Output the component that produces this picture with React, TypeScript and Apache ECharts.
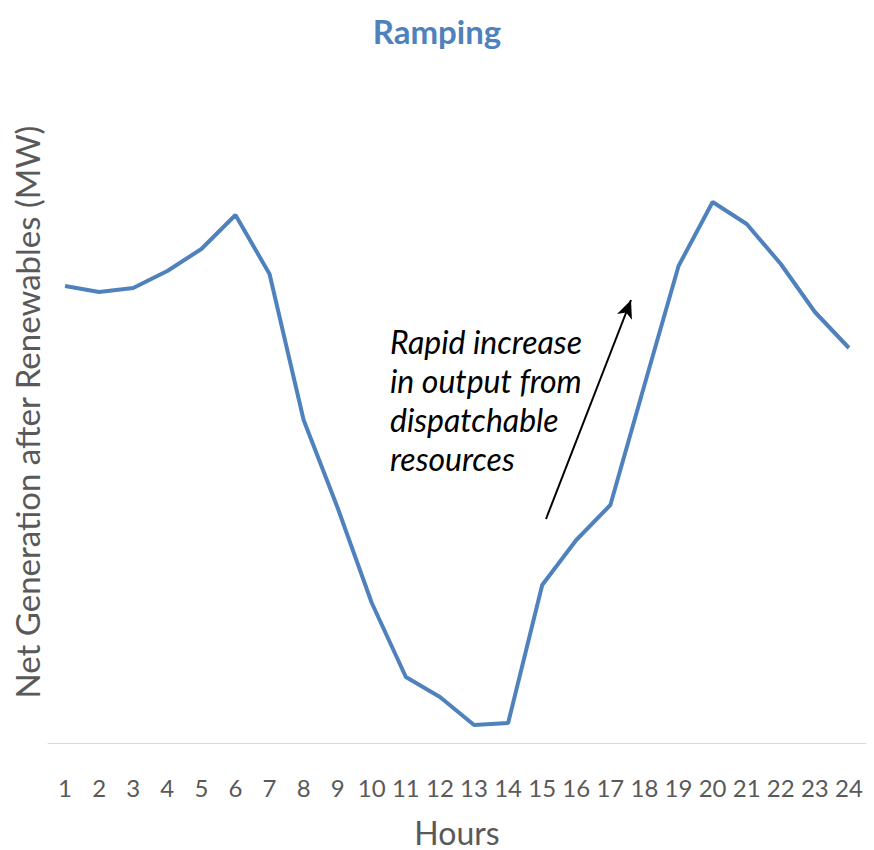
import React, { useEffect, useRef } from "react";
import * as echarts from "echarts";

const hours = ["1","2","3","4","5","6","7","8","9","10","11","12","13","14","15","16","17","18","19","20","21","22","23","24"];
const netGeneration = [457, 451, 455, 472, 494, 528, 469, 323, 235, 140, 66, 46, 18, 20, 158, 203, 238, 358, 477, 541, 519, 479, 431, 395];
const titleText = "Ramping";
const yAxisTitle = "Net Generation after Renewables (MW)";
const xAxisTitle = "Hours";
const annotationLines = ["Rapid increase", "in output from", "dispatchable", "resources"];

const FONT = "Lato, 'Open Sans', sans-serif";

export default function App() {
  const ref = useRef<HTMLDivElement>(null);
  useEffect(() => {
    if (!ref.current) return;
    const chart = echarts.init(ref.current, undefined, { renderer: "svg" });
    chart.setOption({
      animation: false,
      backgroundColor: "#ffffff",
      title: {
        text: titleText,
        left: "center",
        top: 9,
        textStyle: { color: "#4f81bd", fontSize: 33, fontWeight: "bold", fontFamily: FONT },
      },
      grid: { left: 48, right: 8, top: 143, bottom: 107, containLabel: false, outerBoundsMode: "none" },
      xAxis: {
        type: "category",
        data: hours,
        boundaryGap: true,
        axisLine: { lineStyle: { color: "#d9d9d9", width: 1 } },
        axisTick: { show: false },
        axisLabel: { color: "#595959", fontSize: 24, fontFamily: FONT, margin: 32, interval: 0 },
        name: xAxisTitle,
        nameLocation: "middle",
        nameGap: 73,
        nameTextStyle: { color: "#595959", fontSize: 32, fontFamily: FONT },
      },
      yAxis: {
        type: "value",
        min: 0,
        max: 600,
        axisLine: { show: false },
        axisTick: { show: false },
        axisLabel: { show: false },
        splitLine: { show: false },
      },
      graphic: [
        {
          type: "text",
          x: 27,
          y: 412,
          rotation: Math.PI / 2,
          style: {
            text: yAxisTitle,
            fill: "#595959",
            fontSize: 33,
            fontFamily: FONT,
            textAlign: "center",
            textVerticalAlign: "middle",
          },
        },
        {
          type: "text",
          x: 390,
          y: 322,
          style: {
            text: annotationLines.join("\n"),
            fill: "#000000",
            fontSize: 32,
            fontStyle: "italic",
            fontFamily: FONT,
            lineHeight: 39,
            textAlign: "left",
            textVerticalAlign: "top",
          },
        },
      ],
      series: [
        {
          type: "line",
          data: netGeneration,
          symbol: "none",
          lineStyle: { color: "#4f81bd", width: 4 },
          markLine: {
            silent: true,
            symbol: ["none", "arrow"],
            symbolSize: [12, 18],
            label: { show: false },
            lineStyle: { color: "#000000", width: 2, type: "solid" },
            data: [[{ x: 546, y: 519 }, { x: 631, y: 300 }]],
          },
        },
      ],
    });
    return () => chart.dispose();
  }, []);
  return <div ref={ref} style={{ width: 874, height: 850, position: "absolute", left: 0, top: 0 }} />;
}
